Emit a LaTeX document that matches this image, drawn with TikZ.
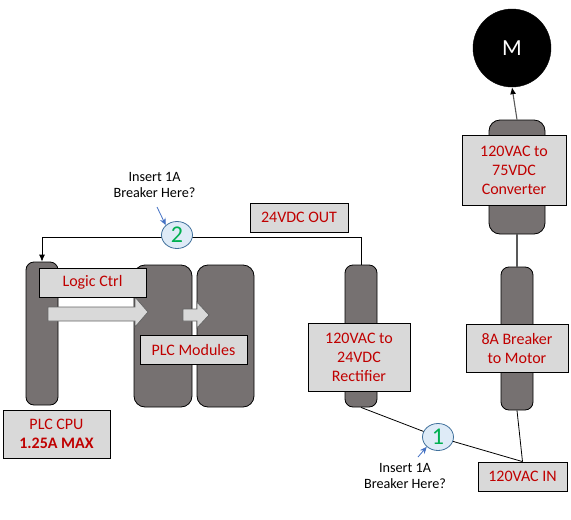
\documentclass[tikz,border=0pt]{standalone}
\usepackage{fontspec}
\setmainfont{Carlito}
\usetikzlibrary{shapes.geometric, arrows.meta}
\definecolor{barfill}{HTML}{767171}
\definecolor{boxfill}{HTML}{D9D9D9}
\definecolor{txtred}{HTML}{C00000}
\definecolor{circfill}{HTML}{DEEBF7}
\definecolor{circline}{HTML}{41719C}
\definecolor{noteblue}{HTML}{4472C4}
\definecolor{numgreen}{HTML}{00B050}
\tikzset{
  bar/.style={draw=black, line width=0.8pt, fill=barfill, rounded corners=8pt, inner sep=0pt},
  widebar/.style={bar, rounded corners=11pt},
  lbl/.style={draw=black, line width=0.8pt, fill=boxfill, text=txtred, align=center,
    font=\fontsize{16}{19}\selectfont, inner sep=0pt},
  brkcirc/.style={ellipse, draw=circline, line width=0.8pt, fill=circfill, text=numgreen,
    inner sep=0pt, minimum width=31pt, minimum height=27pt, font=\fontsize{24}{24}\selectfont},
  note/.style={align=center, font=\fontsize{14.2}{16}\selectfont, inner sep=0pt},
  notearrow/.style={draw=noteblue, line width=0.8pt, -{Stealth[length=7pt,width=6pt]}},
  wire/.style={draw=black, line width=0.8pt},
  graywire/.style={draw=black!65, line width=1.1pt},
  flowarrow/.style={draw=black!60, line width=0.8pt, fill=boxfill},
}
\begin{document}
\begin{tikzpicture}[x=1pt, y=-1pt]
\useasboundingbox (0,0) rectangle (571,520);

% bars
\node[bar, minimum width=32pt, minimum height=143pt] (cpubar) at (42,333.5) {};
\node[widebar, minimum width=58pt, minimum height=142pt] (mod1) at (163,336) {};
\node[widebar, minimum width=57pt, minimum height=142pt] (mod2) at (225.5,336) {};
\node[bar, minimum width=32pt, minimum height=142pt] (rectbar) at (361,336) {};
\node[bar, minimum width=32pt, minimum height=143pt] (brkbar) at (517,338.5) {};
\node[widebar, minimum width=56pt, minimum height=114pt] (convbar) at (517,177) {};

% motor
\node[circle, fill=black, draw=black, minimum size=78pt, inner sep=0pt, text=white,
  font=\fontsize{23}{24}\selectfont] (motor) at (512,48) {M};

% flow arrows
\draw[flowarrow] (48,307) -- (135,307) -- (135,297) -- (148,312) -- (135,327) -- (135,321) -- (48,321) -- cycle;
\draw[flowarrow] (183,309) -- (197,309) -- (197,302) -- (209,315) -- (197,328) -- (197,321) -- (183,321) -- cycle;

% labels
\node[lbl, minimum width=104pt, minimum height=70pt] (convlbl) at (514,170) {120VAC to\\75VDC\\Converter};
\node[lbl, minimum width=102pt, minimum height=48pt] (brklbl) at (517,348) {8A Breaker\\to Motor};
\node[lbl, minimum width=102pt, minimum height=68pt] (rectlbl) at (359,357) {120VAC to\\24VDC\\Rectifier};
\node[lbl, minimum width=89pt, minimum height=29pt] (inlbl) at (522.5,476.5) {120VAC IN};
\node[lbl, minimum width=98pt, minimum height=29pt] (outlbl) at (299,217.5) {24VDC OUT};
\node[lbl, minimum width=107pt, minimum height=29pt] (logic) at (92.5,282.5) {Logic Ctrl};
\node[lbl, minimum width=107pt, minimum height=29pt] (modlbl) at (193.5,349.5) {PLC Modules};
\node[lbl, minimum width=107pt, minimum height=48pt] (cpulbl) at (56.5,434) {PLC CPU\\\textbf{1.25A MAX}};

% wires
\draw[graywire, -{Latex[length=7pt,width=6pt,color=black]}] (convbar.north) -- (motor.south);
\draw[graywire] (convbar.south) -- (brkbar.north);
\draw[wire] (brkbar.south) -- (inlbl.north);
\draw[wire, -{Latex[length=7pt,width=6pt]}] (rectbar.north) -- ++(0,-27) -| (cpubar.north);

% breaker circles
\node[brkcirc] (c2) at (177,235) {2};
\node[brkcirc] (c1) at (438,437) {1};
\draw[wire] (rectbar.south) -- (c1) -- (inlbl.north);

% notes
\node[note] (note2) at (154.5,185) {Insert 1A\\Breaker Here?};
\node[note] (note1) at (405,476) {Insert 1A\\Breaker Here?};
\coordinate (a2) at (157,207);
\coordinate (a1) at (418,457);
\draw[notearrow] (a2) -- (c2.north west);
\draw[notearrow] (a1) -- (c1.south west);
\end{tikzpicture}
\end{document}
